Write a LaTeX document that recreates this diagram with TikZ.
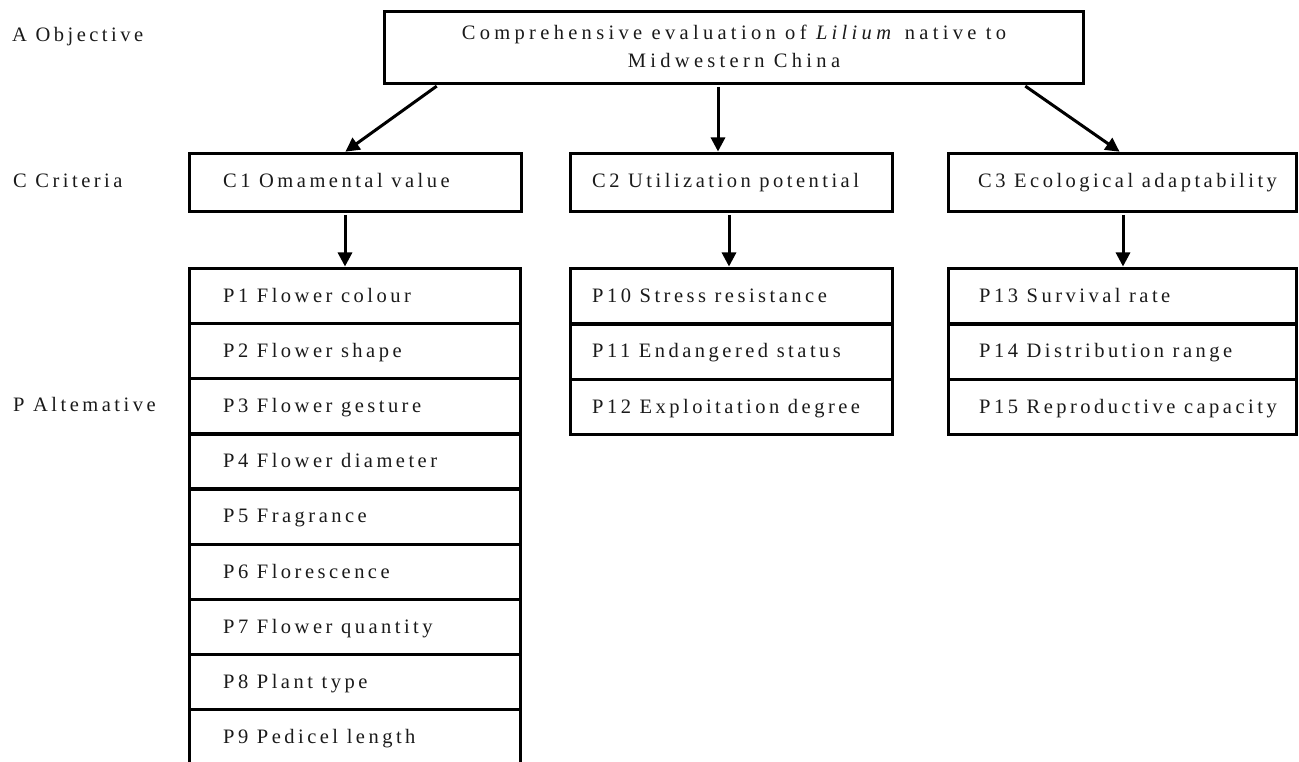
\documentclass[tikz,border=0pt]{standalone}
\usepackage{fontspec}
\setmainfont{Liberation Serif}[LetterSpace=17]
\newfontfamily\topfont{Liberation Serif}[LetterSpace=21]
\usetikzlibrary{arrows.meta}
\definecolor{txt}{HTML}{1A1A1A}
\tikzset{
  box/.style={draw=black, line width=3.2pt, rectangle, inner sep=0pt, anchor=north west},
  lbl/.style={anchor=base west, inner sep=0pt, text=txt, font=\fontsize{20.5}{29}\selectfont},
  arr/.style={line width=3pt, -{Triangle[width=14pt,length=14pt]}, shorten <=1.6pt, shorten >=0.5pt}
}
\begin{document}
\begin{tikzpicture}[x=1pt,y=-1pt]
\useasboundingbox (0,0) rectangle (1299,762);
\clip (0,0) rectangle (1299,762);
% level labels
\node[lbl] (la) at (12,42) {A Objective};
\node[lbl] (lc) at (13,188) {C Criteria};
\node[lbl] (lp) at (13,411) {P Altemative};
% objective
\node[box, minimum width=699pt, minimum height=72pt] (top) at (383,10) {};
\node[anchor=base, inner sep=0pt, align=center, text=txt, font=\topfont\fontsize{20.5}{28}\selectfont] (toptxt) at (734,68) {Comprehensive evaluation of \textit{Lilium} native to\\Midwestern China};
% criteria
\node[box, minimum width=332pt, minimum height=58pt] (c1) at (188,152) {};
\node[box, minimum width=322pt, minimum height=58pt] (c2) at (569,152) {};
\node[box, minimum width=348pt, minimum height=58pt] (c3) at (947,152) {};
\node[lbl] (c1t) at (223,188) {C1 Omamental value};
\node[lbl] (c2t) at (592,188) {C2 Utilization potential};
\node[lbl] (c3t) at (978,188) {C3 Ecological adaptability};
% alternatives column 1
\foreach \i/\t [count=\k from 0] in {1/Flower colour,2/Flower shape,3/Flower gesture,4/Flower diameter,5/Fragrance,6/Florescence,7/Flower quantity,8/Plant type,9/Pedicel length}{
  \node[box, minimum width=331pt, minimum height=55.1pt] (p\i) at (188,267+55.1*\k) {};
  \node[lbl] (p\i t) at (223,302.5+55.1*\k) {P\i\ \t};
}
\foreach \i/\t [count=\k from 0] in {10/Stress resistance,11/Endangered status,12/Exploitation degree}{
  \node[box, minimum width=322pt, minimum height=55.3pt] (p\i) at (569,267+55.3*\k) {};
  \node[lbl] (p\i t) at (592,302.5+55.3*\k) {P\i\ \t};
}
\foreach \i/\t [count=\k from 0] in {13/Survival rate,14/Distribution range,15/Reproductive capacity}{
  \node[box, minimum width=348pt, minimum height=55.3pt] (p\i) at (947,267+55.3*\k) {};
  \node[lbl] (p\i t) at (979,302.5+55.3*\k) {P\i\ \t};
}
% arrows
\draw[arr] ([xshift=55pt]top.south west) -- ([xshift=157pt]c1.north west);
\draw[arr] ([xshift=335pt]top.south west) -- ([xshift=149pt]c2.north west);
\draw[arr] ([xshift=641pt]top.south west) -- ([xshift=173pt]c3.north west);
\draw[arr] ([xshift=157pt]c1.south west) -- ([xshift=157pt]p1.north west);
\draw[arr] ([xshift=160pt]c2.south west) -- ([xshift=160pt]p10.north west);
\draw[arr] ([xshift=176pt]c3.south west) -- ([xshift=176pt]p13.north west);
\end{tikzpicture}
\end{document}
